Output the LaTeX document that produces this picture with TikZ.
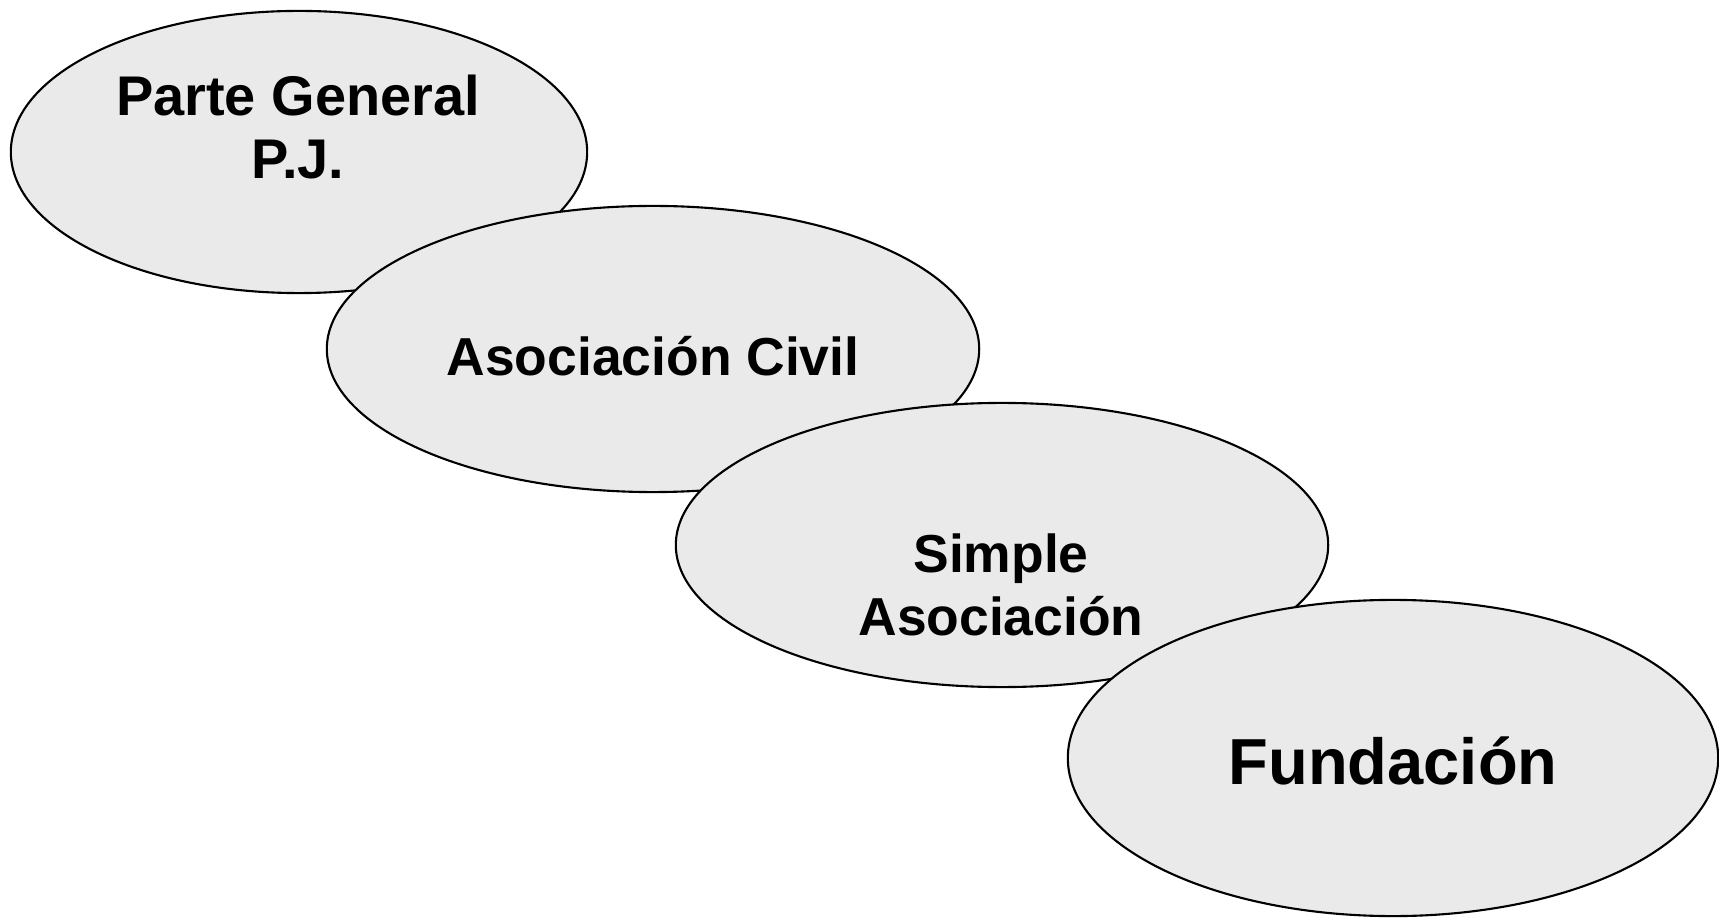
\documentclass[tikz,border=0pt]{standalone}
\usepackage{fontspec}
\setmainfont{Liberation Sans}
\usetikzlibrary{shapes.geometric, positioning}
\usepackage{xcolor}
\definecolor{ovalgray}{HTML}{EAEAEA}
\tikzset{
  oval/.style={ellipse,draw=black,line width=0.6pt,fill=ovalgray,inner sep=0,outer sep=0},
  ovaltext/.style={font=\bfseries\fontsize{15.2pt}{18pt}\selectfont,align=center,inner sep=0}
}

\begin{document}
\begin{tikzpicture}[x=0.01cm,y=-0.01cm]
  \useasboundingbox (0,0) rectangle (1719,919);

  % --- OVAL 1: PARTE GENERAL ---
  \node[oval, minimum width=5.76cm, minimum height=2.82cm] (O1) at (299, 152) {};
  \node[ovaltext, font=\bfseries\fontsize{15.9pt}{17.8pt}\selectfont] (T1) at (298, 127) {Parte General\\P.J.};

  % --- OVAL 2: ASOCIACION CIVIL ---
  \node[oval, minimum width=6.52cm, minimum height=2.86cm] (O2) at (653, 349) {};
  \node[ovaltext] (T2) at (653, 356) {Asociación Civil};

  % --- OVAL 3: SIMPLE ASOCIACION ---
  \node[oval, minimum width=6.52cm, minimum height=2.84cm] (O3) at (1002, 545) {};
  \node[ovaltext] (T3) at (1001, 585) {Simple\\Asociación};

  % --- OVAL 4: FUNDACION ---
  \node[oval, minimum width=6.50cm, minimum height=3.16cm] (O4) at (1393, 758) {};
  \node[ovaltext, font=\bfseries\fontsize{18.5pt}{22pt}\selectfont] (T4) at (1393, 761) {Fundación};

\end{tikzpicture}
\end{document}
